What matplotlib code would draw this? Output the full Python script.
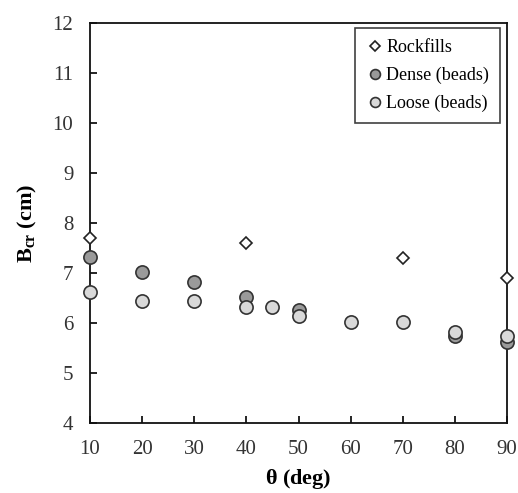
import matplotlib
matplotlib.use("Agg")
import matplotlib.pyplot as plt

plt.rcParams['font.family'] = ['Liberation Serif', 'DejaVu Serif']
plt.rcParams['mathtext.fontset'] = 'custom'
plt.rcParams['mathtext.rm'] = 'Liberation Serif'
plt.rcParams['mathtext.bf'] = 'Liberation Serif:bold'
plt.rcParams['mathtext.it'] = 'Liberation Serif:italic'

# Data
rock_theta = [10, 40, 70, 90]
rock_b = [7.71, 7.61, 7.31, 6.91]

dense_theta = [10, 20, 30, 40, 50, 80, 90]
dense_b = [7.33, 7.03, 6.83, 6.53, 6.26, 5.74, 5.63]

loose_theta = [10, 20, 30, 40, 45, 50, 60, 70, 80, 90]
loose_b = [6.63, 6.45, 6.45, 6.33, 6.33, 6.14, 6.03, 6.03, 5.83, 5.74]

xticks = [10, 20, 30, 40, 50, 60, 70, 80, 90]
yticks = [4, 5, 6, 7, 8, 9, 10, 11, 12]

fig = plt.figure(figsize=(5.18, 4.93), dpi=100)
ax = fig.add_axes([90/518, 1-423/493, (507-90)/518, (423-23)/493])

edge = '#333333'
ax.plot(rock_theta, rock_b, linestyle='none', marker='D', markersize=6.5,
        markerfacecolor='white', markeredgecolor='#222222', markeredgewidth=1.2,
        clip_on=False, zorder=3, label='Rockfills')
ax.plot(dense_theta, dense_b, linestyle='none', marker='o', markersize=9.5,
        markerfacecolor='#9a9a9a', markeredgecolor=edge, markeredgewidth=1.2,
        clip_on=False, zorder=3, label='Dense (beads)')
ax.plot(loose_theta, loose_b, linestyle='none', marker='o', markersize=9.5,
        markerfacecolor='#d9d9d9', markeredgecolor=edge, markeredgewidth=1.2,
        clip_on=False, zorder=4, label='Loose (beads)')

ax.set_xlim(10, 90)
ax.set_ylim(4, 12)
ax.set_xticks(xticks)
ax.set_yticks(yticks)
ax.tick_params(direction='in', length=5, width=1.2, labelsize=15,
               labelcolor='#333333', top=False, right=False)
ax.tick_params(axis='x', pad=12)
ax.tick_params(axis='y', pad=12)
for s in ax.spines.values():
    s.set_linewidth(1.3)
    s.set_color('#111111')

ax.set_xlabel(r'$\mathbf{\theta}$ (deg)', fontsize=16, fontweight='bold', labelpad=6)
ax.set_ylabel(r'$\mathbf{B_{cr}}$ (cm)', fontsize=16, fontweight='bold', labelpad=10)

leg = ax.legend(loc='upper right', bbox_to_anchor=(1 - 7/417, 1 - 5/400),
                borderaxespad=0, fontsize=13, frameon=True, fancybox=False,
                edgecolor='#111111', handletextpad=0.15, handlelength=1.0,
                borderpad=0.6, labelspacing=0.6, markerscale=0.75)
leg.get_frame().set_linewidth(1.2)

fig.savefig('out.png', dpi=100)
